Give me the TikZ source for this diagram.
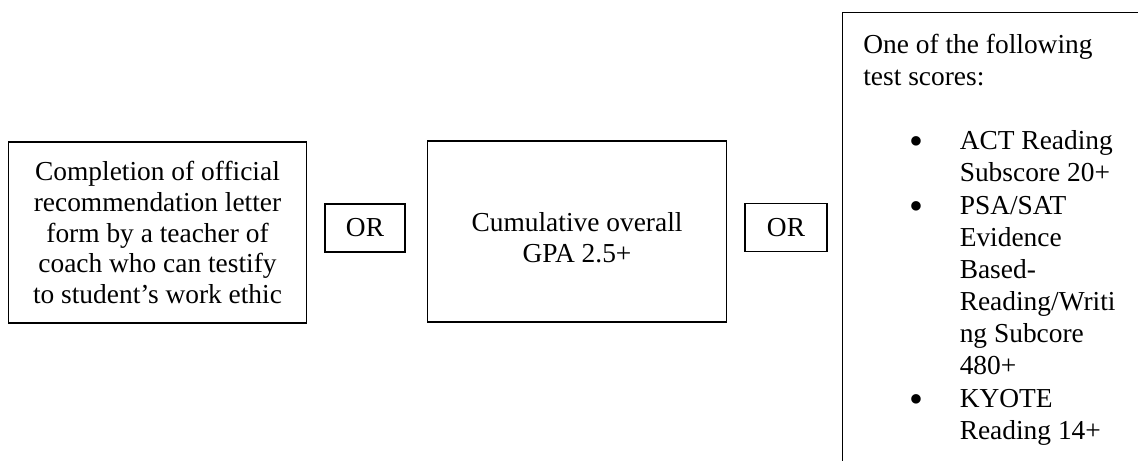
\documentclass[tikz,border=0pt]{standalone}
\usepackage{fontspec}
\setmainfont{Liberation Serif}
\usetikzlibrary{positioning}
\newcommand{\bigdot}{\raisebox{-.1cm}{\scalebox{1.45}{\textbullet}}}
\begin{document}
\begin{tikzpicture}[
		box/.style={draw, line width=.8pt, align=center, font=\fontsize{15.6}{17.4}\selectfont},
		orbox/.style={box, minimum width=1.6cm, minimum height=.96cm},
		bigbox/.style={box, minimum width=5.97cm, minimum height=3.62cm}
	]
			% Page frame
			\useasboundingbox (0,0) rectangle (22.76,9.22);
			\clip (0,0) rectangle (22.76,9.22);

			% Draw the boxes
			\node[bigbox] (letter) at (3.15,4.57) {Completion of official\\recommendation letter\\form by a teacher of\\coach who can testify\\to student’s work ethic};
			\node[orbox] (or1) at (7.30,4.66) {OR};
			\node[bigbox] (gpa) at (11.54,4.59) {\rule{0pt}{.62cm}Cumulative overall\\GPA 2.5+};
			\node[orbox, minimum width=1.64cm] (or2) at (15.72,4.67) {OR};

			% Draw the last box, cut by the page
			\node[draw, line width=.8pt, anchor=north west, minimum width=7cm, minimum height=10cm] (testbox) at (16.84,8.98) {};
			\node[anchor=north west, inner sep=0pt, font=\fontsize{15.6}{18.3}\selectfont] (scores) at ([shift={(.42,-.37)}]testbox.north west) {%
				\begin{tabular}{@{\hspace{.93cm}}c@{\hspace{.72cm}}l@{}}
					\multicolumn{2}{@{}l@{}}{One of the following}\\
					\multicolumn{2}{@{}l@{}}{test scores:}\\
					\\
					\bigdot & ACT Reading\\
					 & Subscore 20+\\
					\bigdot & PSA/SAT\\
					 & Evidence\\
					 & Based-\\
					 & Reading/Writi\\
					 & ng Subcore\\
					 & 480+\\
					\bigdot & KYOTE\\
					 & Reading 14+
				\end{tabular}};
		\end{tikzpicture}
\end{document}
